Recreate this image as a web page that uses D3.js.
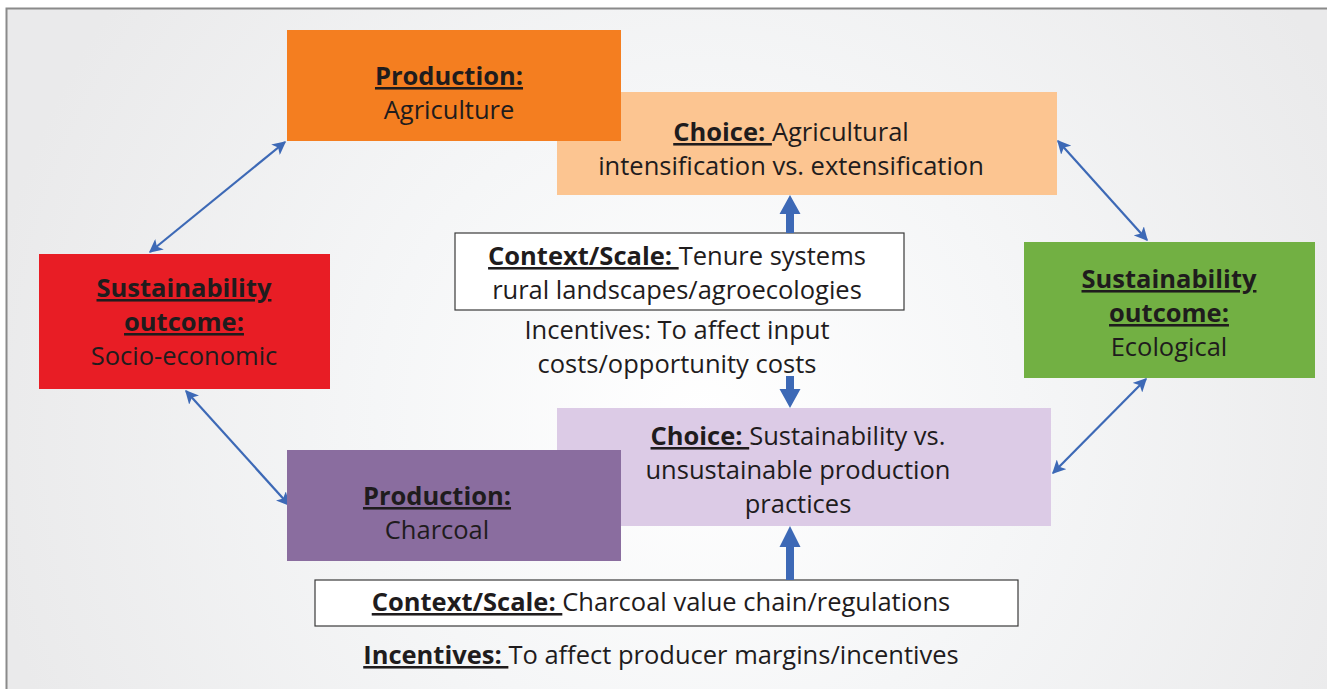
<!DOCTYPE html>
<html>
<head>
<meta charset="utf-8">
<script src="https://cdn.jsdelivr.net/npm/d3@7"></script>
<style>
  body { margin: 0; background: #fff; }
  svg text { font-family: "Open Sans", Lato, sans-serif; fill: #1f1c1d; }
</style>
</head>
<body>
<div id="chart"></div>
<script>
// boxes: id, fill, text lines (segments of [text, boldUnderline])
const boxIds = ['agri', 'choiceAgri', 'socio', 'eco', 'choiceSust', 'charcoal', 'ctxTop', 'ctxBottom'];
const boxFills = ['#f47e20', '#fcc591', '#e81d25', '#72b043', '#dccbe6', '#8a6d9f', '#ffffff', '#ffffff'];
const boxLines = [
  [[['Production:', true]], [['Agriculture', false]]],
  [[['Choice: ', true], ['Agricultural', false]], [['intensification vs. extensification', false]]],
  [[['Sustainability', true]], [['outcome:', true]], [['Socio-economic', false]]],
  [[['Sustainability', true]], [['outcome:', true]], [['Ecological', false]]],
  [[['Choice: ', true], ['Sustainability vs.', false]], [['unsustainable production', false]], [['practices', false]]],
  [[['Production:', true]], [['Charcoal', false]]],
  [[['Context/Scale: ', true], ['Tenure systems', false]], [['rural landscapes/agroecologies', false]]],
  [[['Context/Scale: ', true], ['Charcoal value chain/regulations', false]]]
];
// free-standing labels
const noteLines = [
  [[['Incentives: To affect input', false]], [['costs/opportunity costs', false]]],
  [[['Incentives: ', true], ['To affect producer margins/incentives', false]]]
];
// connections: [from, to, kind]
const links = [
  ['socio', 'agri', 'thin'],
  ['socio', 'charcoal', 'thin'],
  ['choiceAgri', 'eco', 'thin'],
  ['eco', 'choiceSust', 'thin'],
  ['ctxTop', 'choiceAgri', 'thick'],
  ['ctxTop', 'choiceSust', 'thick'],
  ['ctxBottom', 'choiceSust', 'thick']
];

const W = 1327, H = 689;
const svg = d3.select('#chart').append('svg')
  .attr('width', W).attr('height', H);

// layout (pixel frame of the diagram)
const layout = {
  agri:       { x0: 287, y0: 30,  x1: 621,  y1: 141, tx: 449, ty: 85 },
  choiceAgri: { x0: 557, y0: 92,  x1: 1057, y1: 195, tx: 791, ty: 141 },
  socio:      { x0: 39,  y0: 254, x1: 330,  y1: 389, tx: 184, ty: 297 },
  eco:        { x0: 1024, y0: 242, x1: 1315, y1: 378, tx: 1169, ty: 288 },
  choiceSust: { x0: 557, y0: 408, x1: 1051, y1: 526, tx: 798, ty: 445 },
  charcoal:   { x0: 287, y0: 450, x1: 621,  y1: 561, tx: 437, ty: 505 },
  ctxTop:     { x0: 455, y0: 233, x1: 904,  y1: 310, tx: 677, ty: 265 },
  ctxBottom:  { x0: 315, y0: 580, x1: 1018, y1: 626, tx: 661, ty: 611 }
};
const notePos = [{ tx: 677, ty: 339 }, { tx: 661, ty: 664 }];
const lineGap = 34;
const fontSize = 25.5;

// background
const defs = svg.append('defs');
const grad = defs.append('radialGradient')
  .attr('id', 'bg').attr('gradientUnits', 'userSpaceOnUse')
  .attr('cx', 700).attr('cy', 420).attr('r', 720);
grad.append('stop').attr('offset', '0%').attr('stop-color', '#ffffff');
grad.append('stop').attr('offset', '45%').attr('stop-color', '#f5f6f7');
grad.append('stop').attr('offset', '100%').attr('stop-color', '#eaeaeb');

svg.append('rect')
  .attr('x', 6.5).attr('y', 8.5).attr('width', W).attr('height', H)
  .attr('fill', 'url(#bg)')
  .attr('stroke', '#8a8a8a').attr('stroke-width', 2);

const blue = '#3d69b6';
defs.append('marker')
  .attr('id', 'arrowEnd').attr('viewBox', '0 0 10 10')
  .attr('refX', 9).attr('refY', 5)
  .attr('markerWidth', 6.2).attr('markerHeight', 6.2)
  .attr('markerUnits', 'strokeWidth')
  .attr('orient', 'auto-start-reverse')
  .append('path').attr('d', 'M0,0 L10,5 L0,10 L2.5,5 Z').attr('fill', blue);

// boxes, drawn in order so later ones overlap earlier ones
const order = ['choiceAgri', 'agri', 'socio', 'eco', 'choiceSust', 'charcoal', 'ctxTop', 'ctxBottom'];
const boxes = order.map(id => {
  const i = boxIds.indexOf(id);
  return { id, fill: boxFills[i], lines: boxLines[i], ...layout[id] };
});

// thin double-headed arrows: endpoints at box corners/edges
const thinEnds = {
  'socio-agri': [[150, 252], [285, 142]],
  'socio-charcoal': [[186, 391], [289, 505]],
  'choiceAgri-eco': [[1058, 141], [1147, 240]],
  'eco-choiceSust': [[1146, 379], [1053, 473]]
};

const gLinks = svg.append('g');
const gBoxes = svg.append('g');

gBoxes.selectAll('rect.box')
  .data(boxes)
  .enter()
  .append('rect')
  .attr('class', 'box')
  .attr('x', d => d.x0)
  .attr('y', d => d.y0)
  .attr('width', d => d.x1 - d.x0)
  .attr('height', d => d.y1 - d.y0)
  .attr('fill', d => d.fill)
  .attr('stroke', d => d.fill === '#ffffff' ? '#3a3a3a' : 'none')
  .attr('stroke-width', 1.2);

function writeLines(g, lines, tx, ty) {
  const t = g.append('text')
    .attr('text-anchor', 'middle')
    .attr('font-size', fontSize);
  lines.forEach((segs, li) => {
    segs.forEach((s, si) => {
      const sp = t.append('tspan').text(s[0]);
      if (si === 0) sp.attr('x', tx).attr('y', ty + li * lineGap);
      if (s[1]) sp.attr('font-weight', 'bold').attr('text-decoration', 'underline');
    });
  });
}

boxes.forEach(b => writeLines(gBoxes, b.lines, b.tx, b.ty));
noteLines.forEach((lines, i) => writeLines(svg, lines, notePos[i].tx, notePos[i].ty));

// links
links.forEach(([a, b, kind]) => {
  if (kind === 'thin') {
    const e = thinEnds[a + '-' + b];
    gLinks.append('line')
      .attr('x1', e[0][0]).attr('y1', e[0][1])
      .attr('x2', e[1][0]).attr('y2', e[1][1])
      .attr('stroke', blue).attr('stroke-width', 2.2)
      .attr('marker-start', 'url(#arrowEnd)')
      .attr('marker-end', 'url(#arrowEnd)');
  } else {
    const A = layout[a], B = layout[b];
    const x = 790;
    let yStart, yEnd;
    if (b === 'choiceSust' && a === 'ctxTop') {
      yStart = 376; yEnd = B.y0;
    } else {
      yStart = A.y0; yEnd = B.y1;
    }
    const dir = Math.sign(yEnd - yStart);
    const headLen = a === 'ctxBottom' ? 21 : 19;
    const yNeck = yEnd - dir * headLen;
    const sw = 4, hw = 10.5;
    const p = d3.path();
    p.moveTo(x - sw, yStart);
    p.lineTo(x - sw, yNeck);
    p.lineTo(x - hw, yNeck);
    p.lineTo(x, yEnd);
    p.lineTo(x + hw, yNeck);
    p.lineTo(x + sw, yNeck);
    p.lineTo(x + sw, yStart);
    p.closePath();
    svg.append('path').attr('d', p.toString()).attr('fill', blue);
  }
});
</script>
</body>
</html>
